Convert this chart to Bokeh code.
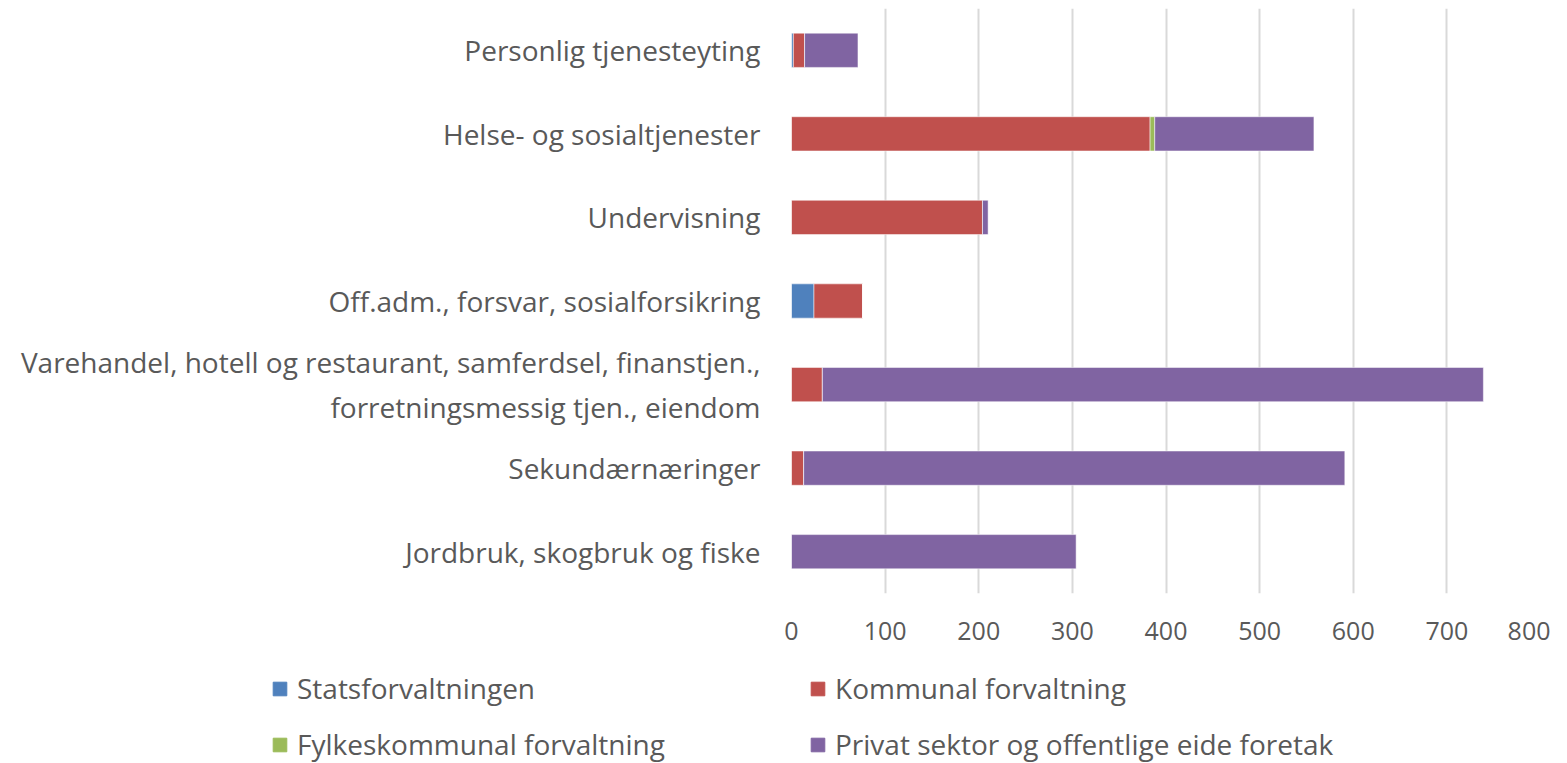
from bokeh.plotting import figure
from bokeh.models import FactorRange, Range1d, Legend, LegendItem, FixedTicker, ColumnDataSource
from bokeh.embed import file_html
from bokeh.resources import INLINE

categories = [
    "Jordbruk, skogbruk og fiske",
    "Sekundærnæringer",
    "Varehandel, hotell og restaurant, samferdsel, finanstjen.,\nforretningsmessig tjen., eiendom",
    "Off.adm., forsvar, sosialforsikring",
    "Undervisning",
    "Helse- og sosialtjenester",
    "Personlig tjenesteyting",
]
statsforvaltningen = [0, 0, 0, 24, 0, 0, 2]
kommunal = [0, 13, 33, 52, 204, 383, 12]
fylkeskommunal = [0, 0, 0, 0, 0, 5, 0]
privat = [304, 578, 706, 0, 6, 170, 57]

series_names = ["Statsforvaltningen", "Kommunal forvaltning",
                "Fylkeskommunal forvaltning", "Privat sektor og offentlige eide foretak"]
colors = ["#4F81BD", "#C0504D", "#9BBB59", "#8064A2"]
x_ticks = [0, 100, 200, 300, 400, 500, 600, 700, 800]

keys = ["s", "k", "f", "p"]
source = ColumnDataSource(dict(cat=categories, s=statsforvaltningen, k=kommunal,
                               f=fylkeskommunal, p=privat))

FONT = "Open Sans"
TXT = "#595959"

p = figure(width=1550, height=661, y_range=FactorRange(*categories),
           x_range=Range1d(0, 800), output_backend="svg", toolbar_location=None,
           min_border_left=791, min_border_right=10, min_border_top=8,
           min_border_bottom=68)
p.frame_height = 585
p.frame_width = 749

renderers = p.hbar_stack(keys, y="cat", height=0.41, color=colors, source=source,
                         line_color="white", line_alpha=0.5, line_width=1)

p.outline_line_color = None
p.ygrid.grid_line_color = None
p.xgrid.grid_line_color = "#d9d9d9"
p.xgrid.grid_line_width = 2
p.xaxis.ticker = FixedTicker(ticks=x_ticks)
for ax in (p.xaxis[0], p.yaxis[0]):
    ax.axis_line_color = None
    ax.major_tick_line_color = None
    ax.minor_tick_line_color = None
    ax.major_label_text_font = FONT
    ax.major_label_text_color = TXT
p.xaxis.major_label_text_font_size = "25px"
p.yaxis.major_label_text_font_size = "28px"
p.xaxis.major_label_standoff = 22
p.yaxis.major_label_standoff = 25
p.y_range.range_padding = 0

# legend in its own strip below the chart
lg = figure(width=1550, height=102, x_range=Range1d(0, 1550), y_range=Range1d(0, 102),
            output_backend="svg", toolbar_location=None,
            min_border_left=0, min_border_right=0, min_border_top=0, min_border_bottom=0)
lg.axis.visible = False
lg.grid.visible = False
lg.outline_line_color = None
keys_rend = [lg.hbar(y=[-50], left=[0], right=[1], height=1, color=c) for c in colors]
items = [LegendItem(label=n, renderers=[r]) for n, r in zip(series_names, keys_rend)]
legend = Legend(items=items, ncols=2, orientation="horizontal", location=(271, 0),
                glyph_width=17, glyph_height=17, label_standoff=9,
                label_width=494, label_height=38, spacing=18, padding=0, margin=0,
                label_text_font=FONT, label_text_color=TXT, label_text_font_size="28px",
                border_line_color=None, background_fill_alpha=0)
lg.add_layout(legend, "center")

open("out.html", "w").write(file_html([p, lg], INLINE))
